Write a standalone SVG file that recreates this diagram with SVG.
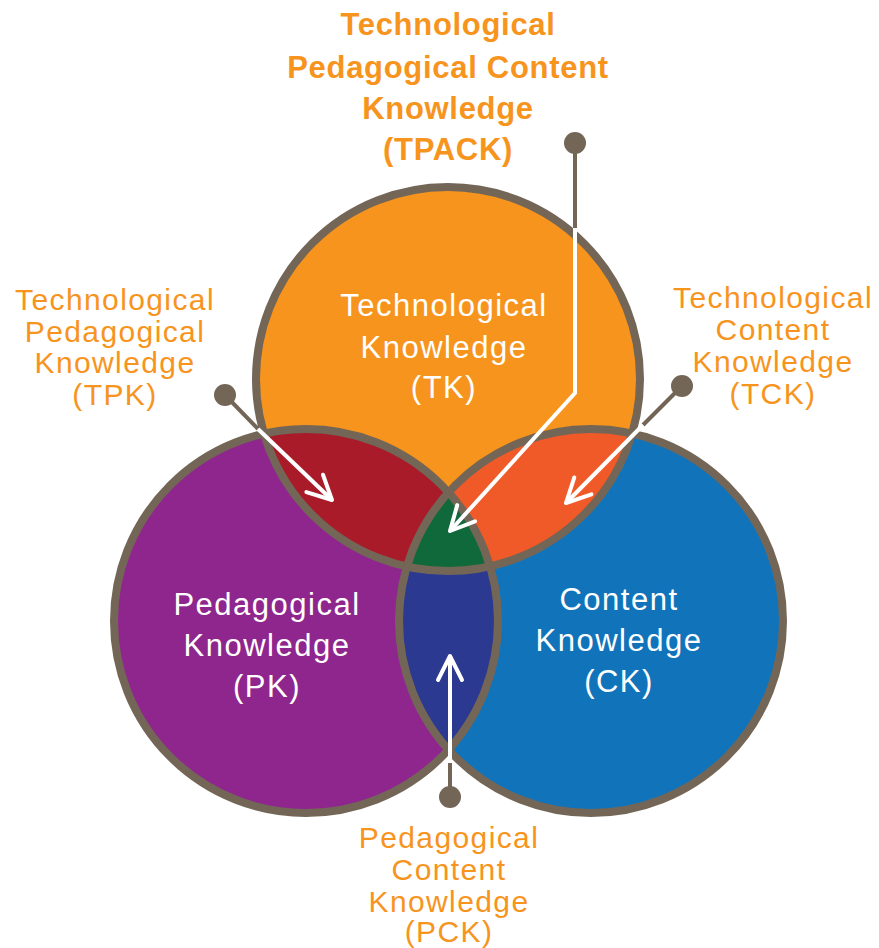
<svg xmlns="http://www.w3.org/2000/svg" width="879" height="948" viewBox="0 0 879 948">
<style>
.lbl{font-family:"Liberation Sans",Arial,sans-serif;font-size:30px;letter-spacing:1.4px;fill:#F7941D;text-anchor:middle}
.title{font-family:"Liberation Sans",Arial,sans-serif;font-size:31px;letter-spacing:0.7px;font-weight:bold;fill:#F7941D;text-anchor:middle}
.in{font-family:"Liberation Sans",Arial,sans-serif;font-size:31px;letter-spacing:1.5px;fill:#ffffff;text-anchor:middle}
.ring{fill:none;stroke:#736657;stroke-width:8}
.lead{stroke:#736657;stroke-width:4;fill:none}
.arr{stroke:#ffffff;stroke-width:4;fill:none}
.dot{fill:#736657}
</style>
<defs>
<clipPath id="cT"><circle cx="448" cy="379" r="192"/></clipPath>
<clipPath id="cP"><circle cx="306" cy="621" r="192"/></clipPath>
<clipPath id="cC"><circle cx="591" cy="621" r="192"/></clipPath>
<marker id="head" markerUnits="userSpaceOnUse" markerWidth="40" markerHeight="40" refX="28" refY="14" orient="auto" viewBox="0 0 40 28">
<path d="M4,2 L28,14 L4,26" fill="none" stroke="#ffffff" stroke-width="4" stroke-linecap="round" stroke-linejoin="round"/>
</marker>
</defs>
<g id="circles">
<g id="TK"><circle cx="448" cy="379" r="192" fill="#F7941D"/></g>
<g id="PK"><circle cx="306" cy="621" r="192" fill="#8E268E"/></g>
<g id="CK"><circle cx="591" cy="621" r="192" fill="#1174BB"/></g>
<g id="TPK" clip-path="url(#cT)"><circle cx="306" cy="621" r="192" fill="#A91B29"/></g>
<g id="TCK" clip-path="url(#cT)"><circle cx="591" cy="621" r="192" fill="#F05A28"/></g>
<g id="PCK" clip-path="url(#cP)"><circle cx="591" cy="621" r="192" fill="#2B3990"/></g>
<g id="TPACK" clip-path="url(#cT)"><g clip-path="url(#cP)"><circle cx="591" cy="621" r="192" fill="#10693A"/></g></g>
<circle class="ring" cx="448" cy="379" r="192"/>
<circle class="ring" cx="306" cy="621" r="192"/>
<circle class="ring" cx="591" cy="621" r="192"/>
</g>
<g id="connectors">
<circle class="dot" cx="575" cy="143" r="11"/>
<path class="lead" d="M575,143 L575,228"/>
<path class="arr" d="M575,228 L575,393 L450,531" marker-end="url(#head)"/>
<circle class="dot" cx="225" cy="395" r="11"/>
<path class="lead" d="M225,395 L258,429"/>
<path class="arr" d="M258,429 L332,500" marker-end="url(#head)"/>
<circle class="dot" cx="682" cy="386" r="11"/>
<path class="lead" d="M682,386 L643,425"/>
<path class="arr" d="M643,425 L566,503" marker-end="url(#head)"/>
<circle class="dot" cx="450" cy="797" r="11"/>
<path class="lead" d="M450,797 L450,763"/>
<path class="arr" d="M450,763 L450,656" marker-end="url(#head)"/>
</g>
<g id="labels">
<text class="title" x="448" y="35">Technological</text>
<text class="title" x="448" y="78">Pedagogical Content</text>
<text class="title" x="448" y="119">Knowledge</text>
<text class="title" x="448" y="160">(TPACK)</text>
<text class="lbl" x="115" y="310">Technological</text>
<text class="lbl" x="115" y="342">Pedagogical</text>
<text class="lbl" x="115" y="373">Knowledge</text>
<text class="lbl" x="115" y="405">(TPK)</text>
<text class="lbl" x="773" y="308">Technological</text>
<text class="lbl" x="773" y="340">Content</text>
<text class="lbl" x="773" y="372">Knowledge</text>
<text class="lbl" x="773" y="404">(TCK)</text>
<text class="lbl" x="449" y="848">Pedagogical</text>
<text class="lbl" x="449" y="880">Content</text>
<text class="lbl" x="449" y="912">Knowledge</text>
<text class="lbl" x="449" y="942">(PCK)</text>
<text class="in" x="444" y="316">Technological</text>
<text class="in" x="444" y="358">Knowledge</text>
<text class="in" x="444" y="398">(TK)</text>
<text class="in" x="267" y="615">Pedagogical</text>
<text class="in" x="267" y="656">Knowledge</text>
<text class="in" x="267" y="697">(PK)</text>
<text class="in" x="619" y="610">Content</text>
<text class="in" x="619" y="651">Knowledge</text>
<text class="in" x="619" y="692">(CK)</text>
</g>
</svg>
